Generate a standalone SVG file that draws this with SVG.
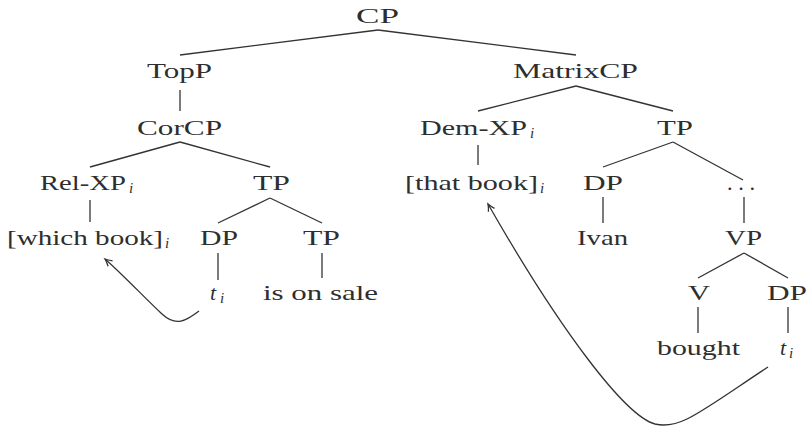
<svg xmlns="http://www.w3.org/2000/svg" width="807" height="429" viewBox="0 0 807 429">
<style>
text{font-family:"Liberation Serif","Times New Roman",serif;font-size:22px;fill:#2e2e2e}
.s{font-size:15px;font-style:italic}
.it{font-style:italic}
.e line,.e path{stroke:#333;stroke-width:1.3;fill:none}
</style>
<defs>
<marker id="ah" markerUnits="userSpaceOnUse" markerWidth="14" markerHeight="14" viewBox="-10 -7 14 14" refX="0" refY="0" orient="auto">
<path d="M-7,-3.5 Q-3,-1 0,0 Q-3,1 -7,3.5" fill="none" stroke="#333" stroke-width="1.3"/>
</marker>
</defs>
<rect width="807" height="429" fill="#fff"/>
<g id="edges" class="e">
<line x1="378" y1="30" x2="180" y2="55"/>
<line x1="378" y1="30" x2="576" y2="55"/>
<line x1="180" y1="90" x2="180" y2="111"/>
<line x1="180" y1="142" x2="90" y2="167"/>
<line x1="180" y1="142" x2="270" y2="167"/>
<line x1="90" y1="200" x2="90" y2="222"/>
<line x1="270" y1="198" x2="218" y2="223"/>
<line x1="270" y1="198" x2="322" y2="223"/>
<line x1="218" y1="253" x2="218" y2="280"/>
<line x1="322" y1="253" x2="322" y2="278"/>
<line x1="576" y1="86" x2="478" y2="111"/>
<line x1="576" y1="86" x2="673" y2="111"/>
<line x1="478" y1="145" x2="478" y2="165"/>
<line x1="673" y1="142" x2="603" y2="167"/>
<line x1="673" y1="142" x2="743" y2="180"/>
<line x1="603" y1="197" x2="603" y2="223"/>
<line x1="744" y1="197" x2="744" y2="223"/>
<line x1="744" y1="253" x2="698" y2="278"/>
<line x1="744" y1="253" x2="788" y2="278"/>
<line x1="698" y1="307" x2="698" y2="333"/>
<line x1="788" y1="307" x2="788" y2="333"/>
<path d="M199,311 C186,321 176,327 162,314 S118,270 105,259" marker-end="url(#ah)"/>
<path d="M768,367 C700,412 680,430 655,424 C625,416 560,330 488,204" marker-end="url(#ah)"/>
</g>
<g id="nodes">
<g id="n-CP"><text x="356" y="23" textLength="43" lengthAdjust="spacingAndGlyphs">CP</text></g>
<g id="n-TopP"><text x="147" y="78" textLength="65" lengthAdjust="spacingAndGlyphs">TopP</text></g>
<g id="n-MatrixCP"><text x="513" y="78" textLength="125" lengthAdjust="spacingAndGlyphs">MatrixCP</text></g>
<g id="n-CorCP"><text x="137" y="135" textLength="85" lengthAdjust="spacingAndGlyphs">CorCP</text></g>
<g id="n-DemXP"><text x="420" y="135" textLength="107" lengthAdjust="spacingAndGlyphs">Dem-XP</text><text class="s" x="530" y="138">i</text></g>
<g id="n-TP2"><text x="657" y="135" textLength="36" lengthAdjust="spacingAndGlyphs">TP</text></g>
<g id="n-RelXP"><text x="40" y="190" textLength="86" lengthAdjust="spacingAndGlyphs">Rel-XP</text><text class="s" x="129" y="193">i</text></g>
<g id="n-TP1"><text x="253" y="190" textLength="37" lengthAdjust="spacingAndGlyphs">TP</text></g>
<g id="n-thatbook"><text x="405" y="190" textLength="133" lengthAdjust="spacingAndGlyphs">[that book]</text><text class="s" x="540" y="193">i</text></g>
<g id="n-DP2"><text x="583" y="190" textLength="40" lengthAdjust="spacingAndGlyphs">DP</text></g>
<g id="n-dots"><text x="727" y="190" textLength="28" lengthAdjust="spacingAndGlyphs">. . .</text></g>
<g id="n-whichbook"><text x="7" y="245" textLength="156" lengthAdjust="spacingAndGlyphs">[which book]</text><text class="s" x="165" y="248">i</text></g>
<g id="n-DP1"><text x="200" y="245" textLength="38" lengthAdjust="spacingAndGlyphs">DP</text></g>
<g id="n-TP3"><text x="303" y="245" textLength="37" lengthAdjust="spacingAndGlyphs">TP</text></g>
<g id="n-Ivan"><text x="577" y="245" textLength="51" lengthAdjust="spacingAndGlyphs">Ivan</text></g>
<g id="n-VP"><text x="725" y="245" textLength="37" lengthAdjust="spacingAndGlyphs">VP</text></g>
<g id="n-t1"><text class="it" x="210" y="300">t</text><text class="s" x="220" y="303">i</text></g>
<g id="n-sale"><text x="263" y="300" textLength="115" lengthAdjust="spacingAndGlyphs">is on sale</text></g>
<g id="n-V"><text x="688" y="300" textLength="22" lengthAdjust="spacingAndGlyphs">V</text></g>
<g id="n-DP3"><text x="767" y="300" textLength="40" lengthAdjust="spacingAndGlyphs">DP</text></g>
<g id="n-bought"><text x="657" y="355" textLength="83" lengthAdjust="spacingAndGlyphs">bought</text></g>
<g id="n-t2"><text class="it" x="780" y="355">t</text><text class="s" x="789" y="358">i</text></g>
</g>
</svg>
